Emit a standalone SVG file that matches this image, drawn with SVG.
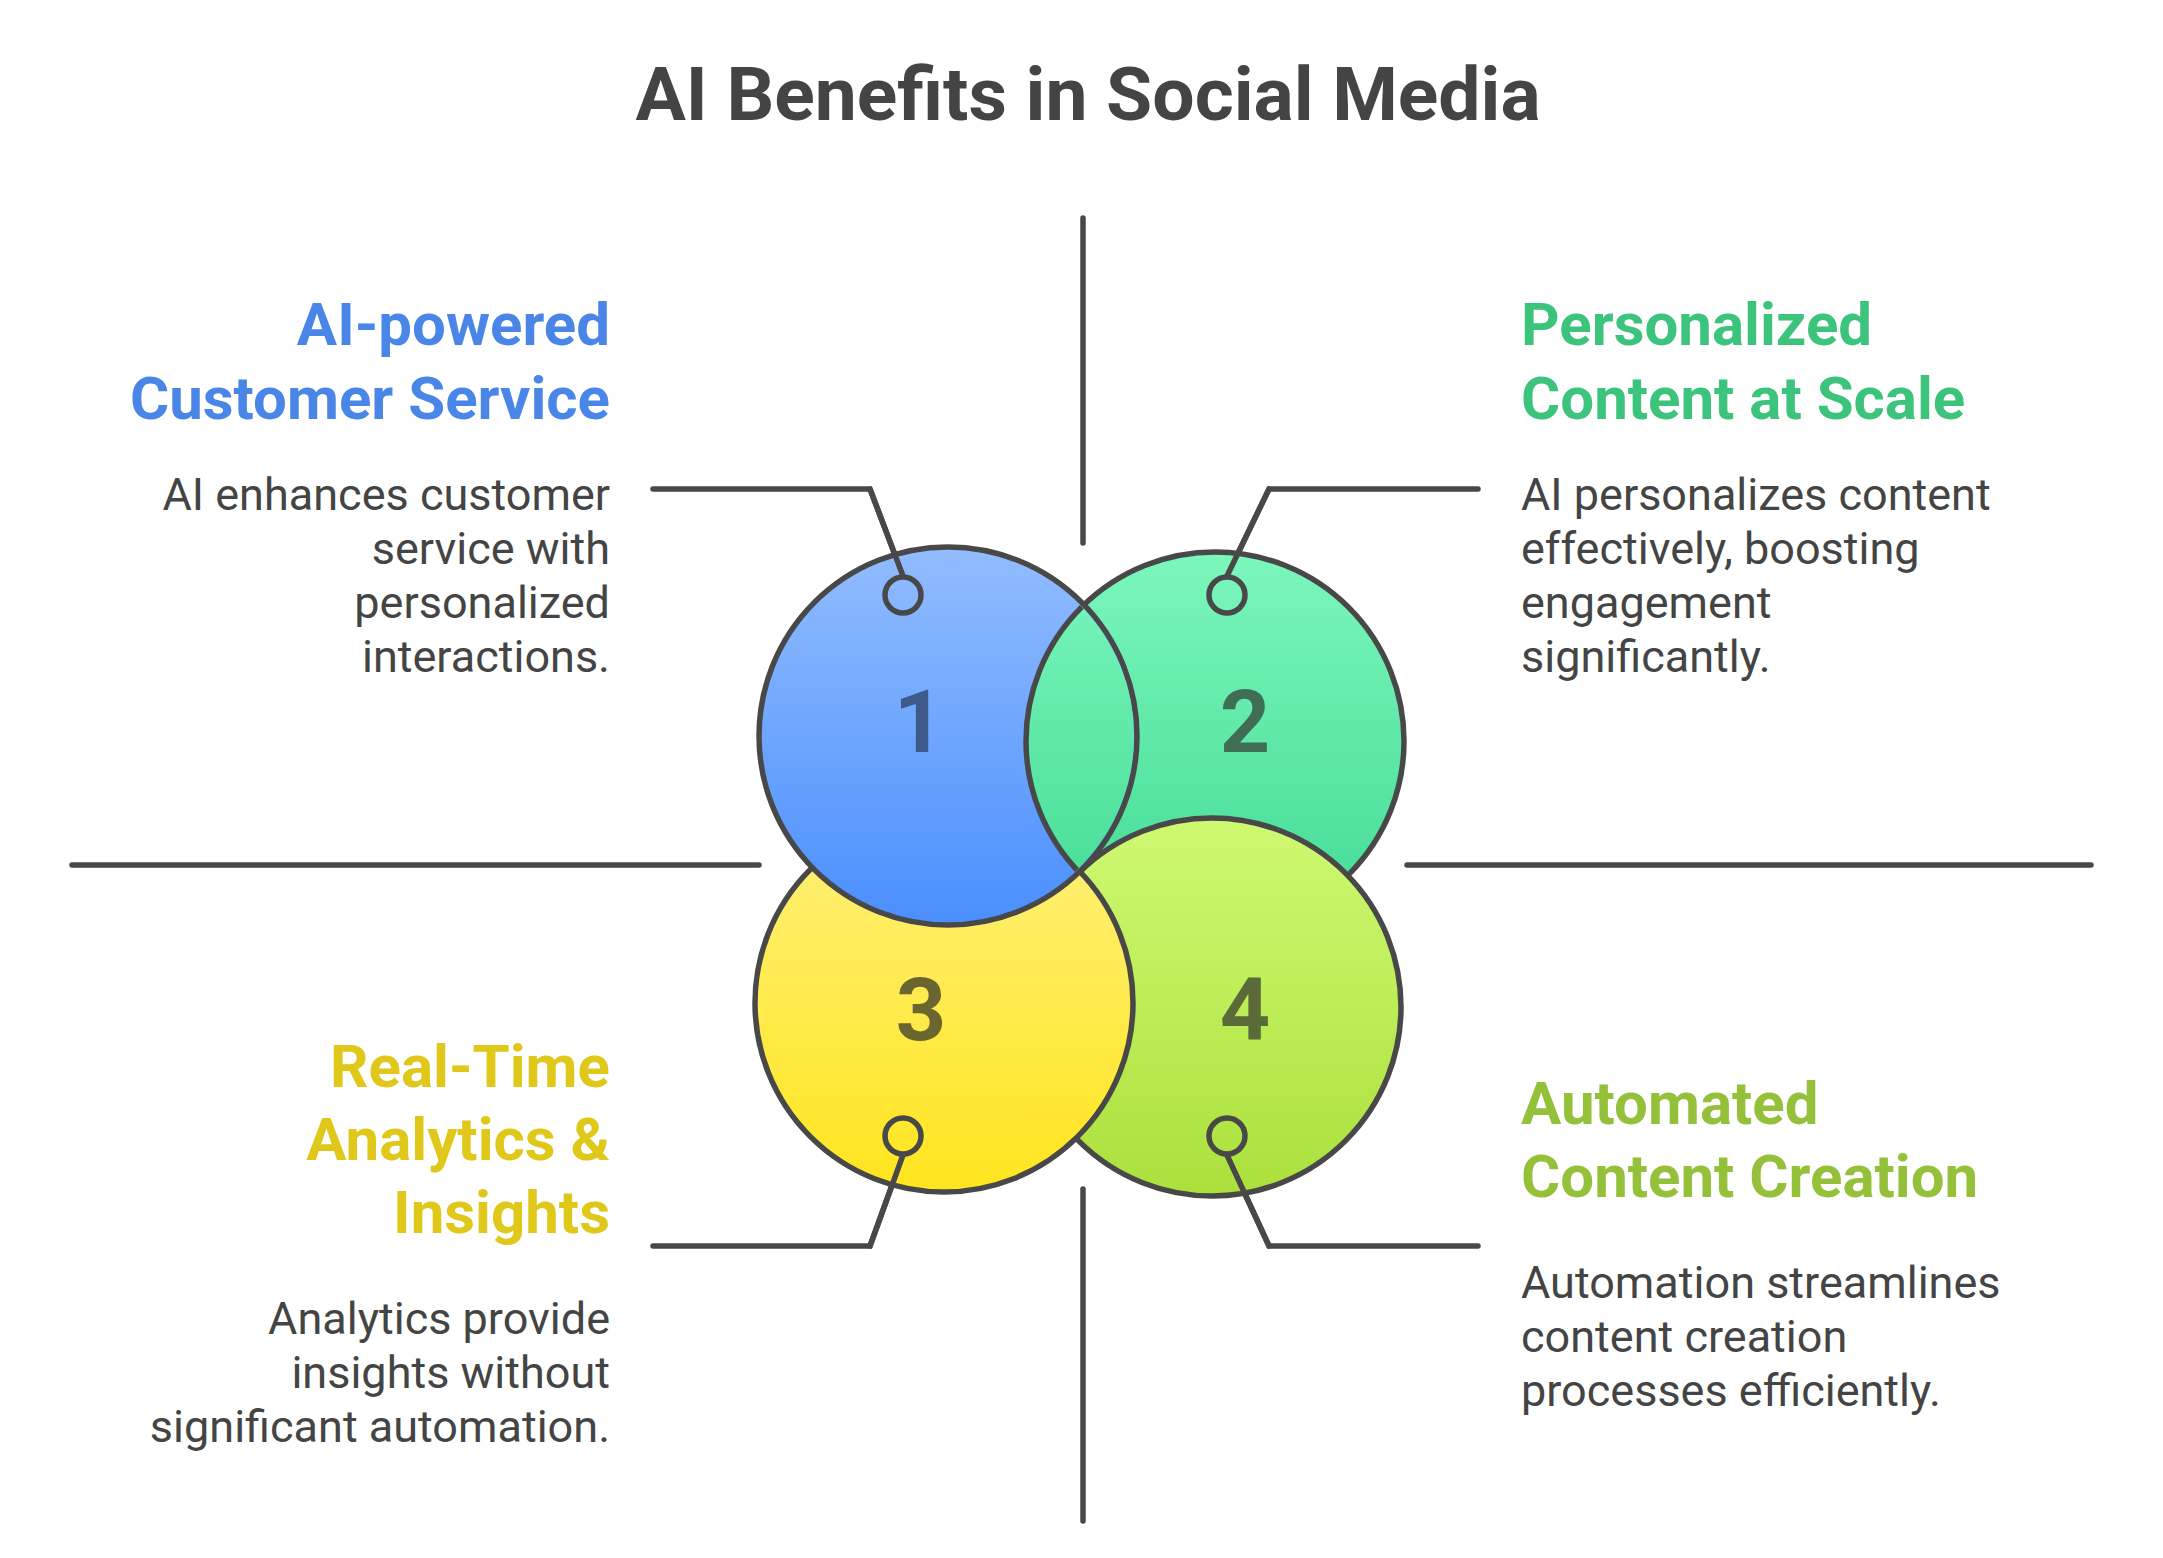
<svg xmlns="http://www.w3.org/2000/svg" width="2163" height="1558" viewBox="0 0 2163 1558">
<defs>
<linearGradient id="g1" x1="0" y1="0" x2="0" y2="1"><stop offset="0" stop-color="#92bcff"/><stop offset="1" stop-color="#4a8ffe"/></linearGradient>
<linearGradient id="g2" x1="0" y1="0" x2="0" y2="1"><stop offset="0" stop-color="#7cf6bd"/><stop offset="1" stop-color="#42db94"/></linearGradient>
<linearGradient id="g3" x1="0" y1="0" x2="0" y2="1"><stop offset="0" stop-color="#fff07c"/><stop offset="1" stop-color="#ffe51e"/></linearGradient>
<linearGradient id="g4" x1="0" y1="0" x2="0" y2="1"><stop offset="0" stop-color="#cff972"/><stop offset="1" stop-color="#abe03c"/></linearGradient>
<clipPath id="in1"><circle cx="948" cy="736" r="186"/></clipPath>
<style>
.ln{fill:none;stroke:#484848;stroke-width:5.5;stroke-linecap:round;stroke-linejoin:miter}
.c{stroke:#484848;stroke-width:5.5}
.num{font-family:Roboto,"Liberation Sans",sans-serif;font-weight:bold;font-size:88px;text-anchor:middle}
.h{font-family:Roboto,"Liberation Sans",sans-serif;font-weight:bold;font-size:60px}
.b{font-family:Roboto,"Liberation Sans",sans-serif;font-size:45px;fill:#444}
.r{text-anchor:end}
</style>
</defs>
<rect width="2163" height="1558" fill="#fff"/>
<text x="1088" y="120" text-anchor="middle" font-family="Roboto,'Liberation Sans',sans-serif" font-weight="bold" font-size="75" fill="#444">AI Benefits in Social Media</text>
<g id="connectors">
<path class="ln" d="M1083 218V543M1083 1189V1521M72 865H759M1407 865H2091"/>
<path class="ln" d="M903 576L870 489H653M1227 576L1269 489H1478M903 1155L870 1246H653M1227 1155L1269 1246H1478"/>
</g>
<g id="node2"><circle class="c" cx="1215" cy="741" r="189" fill="url(#g2)"/></g>
<g id="node4"><circle class="c" cx="1212" cy="1007" r="189" fill="url(#g4)"/></g>
<g id="node3"><circle class="c" cx="944" cy="1003" r="189" fill="url(#g3)"/></g>
<g id="node1"><circle class="c" cx="948" cy="736" r="189" fill="url(#g1)"/></g>
<g id="node2-over"><circle class="c" cx="1215" cy="741" r="189" fill="url(#g2)" clip-path="url(#in1)"/></g>
<g id="labels">
<path class="ln" d="M903 576L870 489M1227 576L1269 489M903 1155L870 1246M1227 1155L1269 1246"/>
<circle class="c" cx="903" cy="595" r="18" fill="none"/>
<circle class="c" cx="1227" cy="595" r="18" fill="none"/>
<circle class="c" cx="903" cy="1136" r="18" fill="none"/>
<circle class="c" cx="1227" cy="1136" r="18" fill="none"/>
<text class="num" x="919" y="752" fill="#3d5a8a">1</text>
<text class="num" x="1245" y="752" fill="#3f6e55">2</text>
<text class="num" x="921" y="1040" fill="#6b6630">3</text>
<text class="num" x="1245" y="1040" fill="#5a6a38">4</text>
</g>
<g id="text1">
<text class="h r" x="610" y="345" fill="#4a86e8">AI-powered</text>
<text class="h r" x="610" y="419" fill="#4a86e8">Customer Service</text>
<text class="b r" x="610" y="510">AI enhances customer</text>
<text class="b r" x="610" y="564">service with</text>
<text class="b r" x="610" y="618">personalized</text>
<text class="b r" x="610" y="672">interactions.</text>
</g>
<g id="text2">
<text class="h" x="1521" y="345" fill="#3cc47c">Personalized</text>
<text class="h" x="1521" y="419" fill="#3cc47c">Content at Scale</text>
<text class="b" x="1521" y="510">AI personalizes content</text>
<text class="b" x="1521" y="564">effectively, boosting</text>
<text class="b" x="1521" y="618">engagement</text>
<text class="b" x="1521" y="672">significantly.</text>
</g>
<g id="text3">
<text class="h r" x="610" y="1087" fill="#e0c81a">Real-Time</text>
<text class="h r" x="610" y="1160" fill="#e0c81a">Analytics &amp;</text>
<text class="h r" x="610" y="1233" fill="#e0c81a">Insights</text>
<text class="b r" x="610" y="1334">Analytics provide</text>
<text class="b r" x="610" y="1388">insights without</text>
<text class="b r" x="610" y="1442">significant automation.</text>
</g>
<g id="text4">
<text class="h" x="1521" y="1124" fill="#94c03a">Automated</text>
<text class="h" x="1521" y="1197" fill="#94c03a">Content Creation</text>
<text class="b" x="1521" y="1298">Automation streamlines</text>
<text class="b" x="1521" y="1352">content creation</text>
<text class="b" x="1521" y="1406">processes efficiently.</text>
</g>
</svg>
